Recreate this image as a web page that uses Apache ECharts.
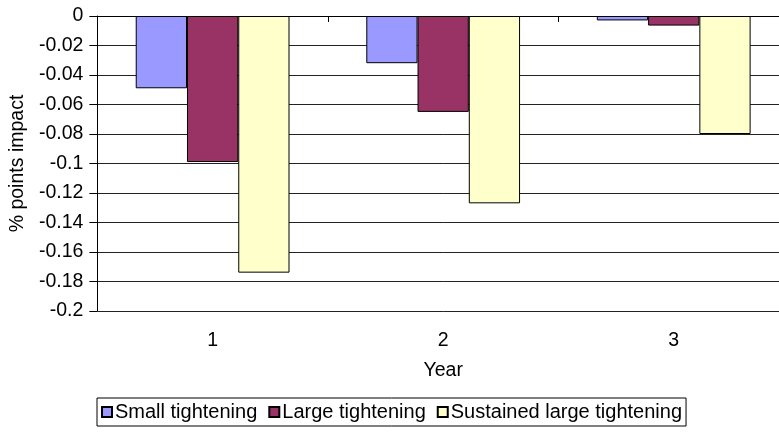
<!DOCTYPE html>
<html>
<head>
<meta charset="utf-8">
<script src="https://cdn.jsdelivr.net/npm/echarts@6/dist/echarts.min.js"></script>
<style>html,body{margin:0;padding:0;background:#fff;overflow:hidden;}#c{width:790px;height:432px;}</style>
</head>
<body>
<div id="c"></div>
<script>
var years = ['1', '2', '3'];
var seriesNames = ['Small tightening', 'Large tightening', 'Sustained large tightening'];
var smallTightening = [-0.049, -0.032, -0.003];
var largeTightening = [-0.099, -0.065, -0.0065];
var sustainedLargeTightening = [-0.174, -0.127, -0.080];
var colors = ['#9999FF', '#993366', '#FFFFCC'];

var font = 'Liberation Sans, Arial, sans-serif';
var chart = echarts.init(document.getElementById('c'));
var data = [smallTightening, largeTightening, sustainedLargeTightening];
chart.setOption({
  animation: false,
  textStyle: {fontFamily: font},
  grid: {left: 95, top: 16, right: 1, height: 295, containLabel: false},
  legend: {
    left: 97, top: 398,
    data: seriesNames,
    icon: 'rect', itemWidth: 10, itemHeight: 10, itemGap: 11,
    borderColor: '#000', borderWidth: 1, padding: [4, 4, 4, 4],
    textStyle: {fontFamily: font, fontSize: 20, color: '#000', padding: [0, 0, 0, -2]}
  },
  xAxis: [{
    type: 'category', data: years, position: 'bottom',
    axisLine: {show: false}, axisTick: {show: false},
    axisLabel: {fontSize: 19.5, color: '#000', margin: 20},
    name: 'Year', nameLocation: 'middle', nameGap: 50,
    nameTextStyle: {fontSize: 19.5, color: '#000'}
  }, {
    type: 'category', data: years, position: 'top',
    axisLine: {show: true, lineStyle: {color: '#000', width: 1}},
    axisTick: {show: true, inside: true, length: 6, lineStyle: {color: '#000'}},
    axisLabel: {show: false}
  }],
  yAxis: {
    type: 'value', min: -0.2, max: 0, interval: 0.02,
    axisLine: {show: true, lineStyle: {color: '#000', width: 1}},
    axisTick: {show: true, length: 8, lineStyle: {color: '#000'}},
    axisLabel: {fontSize: 19.5, color: '#000', margin: 14,
      formatter: function (v) { return String(+v.toFixed(2)); }},
    splitLine: {show: true, lineStyle: {color: '#222', width: 1}},
    name: '% points impact', nameLocation: 'middle', nameGap: 66,
    nameTextStyle: {fontSize: 19.5, color: '#000'}
  },
  series: seriesNames.map(function (n, i) {
    return {
      name: n, type: 'bar', data: data[i], xAxisIndex: 0,
      barGap: '0%', barCategoryGap: '33.3%',
      itemStyle: {color: colors[i], borderColor: '#000', borderWidth: 1}
    };
  })
});
</script>
</body>
</html>
